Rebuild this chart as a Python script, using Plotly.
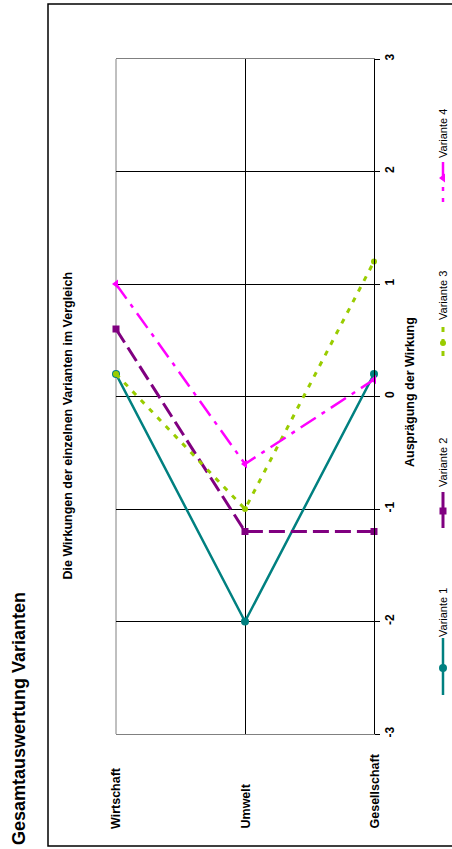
import plotly.graph_objects as go

# ---------------- data ----------------
categories = ["Wirtschaft", "Umwelt", "Gesellschaft"]
variante_1 = [0.2, -2.0, 0.2]
variante_2 = [0.6, -1.2, -1.2]
variante_3 = [0.2, -1.0, 1.2]
variante_4 = [1.0, -0.6, 0.15]
series_names = ["Variante 1", "Variante 2", "Variante 3", "Variante 4"]
value_ticks = [-3, -2, -1, 0, 1, 2, 3]

title_text = "Gesamtauswertung Varianten"
subtitle_text = "Die Wirkungen der einzelnen Varianten im Vergleich"
value_axis_title = "Ausprägung der Wirkung"

# ---------------- geometry / styles ----------------
W, H = 452, 849
FONT = "Liberation Sans, Arial, sans-serif"
styles = [
    dict(color="#008080", width=2.5, dash="solid", symbol="circle", size=8),
    dict(color="#800080", width=3, dash="16px,6px", symbol="square", size=7),
    dict(color="#99CC00", width=3, dash="5px,7px", symbol="circle", size=6),
    dict(color="#FF00FF", width=2.5, dash="18px,7px,4px,7px", symbol="triangle-left", size=8),
]

def px_x(p):
    """pixel x -> paper fraction"""
    return p / W

def px_y(p):
    """pixel y (from top) -> paper fraction"""
    return (H - p) / H

# plot area in pixels
PL, PR, PT, PB = 116, 374, 59, 734

fig = go.Figure()

all_series = [variante_1, variante_2, variante_3, variante_4]
for name, vals, st in zip(series_names, all_series, styles):
    fig.add_trace(go.Scatter(
        x=categories, y=vals, name=name, mode="lines+markers",
        line=dict(color=st["color"], width=st["width"], dash=st["dash"]),
        marker=dict(symbol=st["symbol"], size=st["size"], color=st["color"],
                    line=dict(width=0)),
        cliponaxis=False, showlegend=False, xaxis="x", yaxis="y",
    ))

# ---------------- custom rotated legend (helper axes scaled in pixels) ----------------
LEG_X = 443
legend_spans = [(638, 695, 668), (492, 528, 511), (327, 360, 343), (162, 202, 178)]
legend_text_y = [613, 463, 296, 134]
for name, st, (a, b, m) in zip(series_names, styles, legend_spans):
    fig.add_trace(go.Scatter(
        x=[LEG_X, LEG_X], y=[a, b], mode="lines",
        line=dict(color=st["color"], width=st["width"], dash=st["dash"]),
        xaxis="x2", yaxis="y2", showlegend=False, hoverinfo="skip", cliponaxis=False,
    ))
    fig.add_trace(go.Scatter(
        x=[LEG_X], y=[m], mode="markers",
        marker=dict(symbol=st["symbol"], size=st["size"], color=st["color"]),
        xaxis="x2", yaxis="y2", showlegend=False, hoverinfo="skip", cliponaxis=False,
    ))

annotations = []
annotations.append(dict(text=title_text, x=px_x(19), y=px_y(719), xref="paper", yref="paper",
                        textangle=-90, showarrow=False, xanchor="center", yanchor="middle",
                        font=dict(family=FONT, size=18, color="black", weight="bold")))
annotations.append(dict(text=subtitle_text, x=px_x(67.5), y=px_y(426), xref="paper", yref="paper",
                        textangle=-90, showarrow=False, xanchor="center", yanchor="middle",
                        font=dict(family=FONT, size=12.5, color="black", weight="bold")))
annotations.append(dict(text=value_axis_title, x=px_x(410), y=px_y(392), xref="paper", yref="paper",
                        textangle=-90, showarrow=False, xanchor="center", yanchor="middle",
                        font=dict(family=FONT, size=12.5, color="black", weight="bold")))
for c in categories:
    annotations.append(dict(text=c, x=c, y=px_y(831), xref="x", yref="paper",
                            textangle=-90, showarrow=False, xanchor="center", yanchor="bottom",
                            font=dict(family=FONT, size=12.5, color="black", weight="bold")))
for name, ty in zip(series_names, legend_text_y):
    annotations.append(dict(text=name, x=px_x(LEG_X), y=px_y(ty), xref="paper", yref="paper",
                            textangle=-90, showarrow=False, xanchor="center", yanchor="middle",
                            font=dict(family=FONT, size=11, color="black")))

shapes = [
    dict(type="rect", xref="paper", yref="paper", x0=px_x(48), x1=1.2, y0=px_y(846), y1=px_y(4),
         line=dict(color="black", width=1.5), fillcolor="rgba(0,0,0,0)", layer="below"),
    dict(type="line", xref="x domain", yref="y domain", x0=0, x1=0, y0=0, y1=1,
         line=dict(color="#808080", width=1), layer="below"),
]

leg_d0 = 0.9
fig.update_layout(
    width=W, height=H,
    margin=dict(l=0, r=0, t=0, b=0, autoexpand=False),
    paper_bgcolor="white", plot_bgcolor="white",
    showlegend=False,
    font=dict(family=FONT, color="black"),
    xaxis=dict(type="category", categoryorder="array", categoryarray=categories,
               range=[0, 2], domain=[px_x(PL), px_x(PR)], anchor="y",
               tickmode="array", tickvals=["Umwelt"], showticklabels=False, ticks="",
               showgrid=True, gridcolor="black", gridwidth=1,
               showline=True, mirror=True, linecolor="#808080", linewidth=1,
               zeroline=False, fixedrange=True, automargin=False),
    yaxis=dict(range=[-3, 3], domain=[px_y(PB), px_y(PT)], anchor="x", side="right",
               tickmode="array", tickvals=value_ticks, ticktext=[str(v) for v in value_ticks],
               showgrid=True, gridcolor="black", gridwidth=1, zeroline=False,
               showline=True, linecolor="black", linewidth=1, mirror=False,
               ticks="outside", ticklen=5, tickcolor="black", tickwidth=1, tickangle=-90,
               tickfont=dict(family=FONT, size=12, color="black", weight="bold"),
               fixedrange=True, automargin=False),
    xaxis2=dict(domain=[leg_d0, 1.0], range=[leg_d0 * W, W], anchor="y2",
                visible=False, fixedrange=True),
    yaxis2=dict(domain=[0, 1], range=[H, 0], anchor="x2", visible=False, fixedrange=True),
    annotations=annotations,
    shapes=shapes,
)

page_fix = (
    "document.documentElement.style.margin='0';"
    "document.documentElement.style.overflow='hidden';"
    "document.body.style.margin='0';"
    "document.body.style.padding='0';"
    "document.body.style.overflow='hidden';"
)

fig.write_html("out.html", config={"displayModeBar": False}, post_script=page_fix)
